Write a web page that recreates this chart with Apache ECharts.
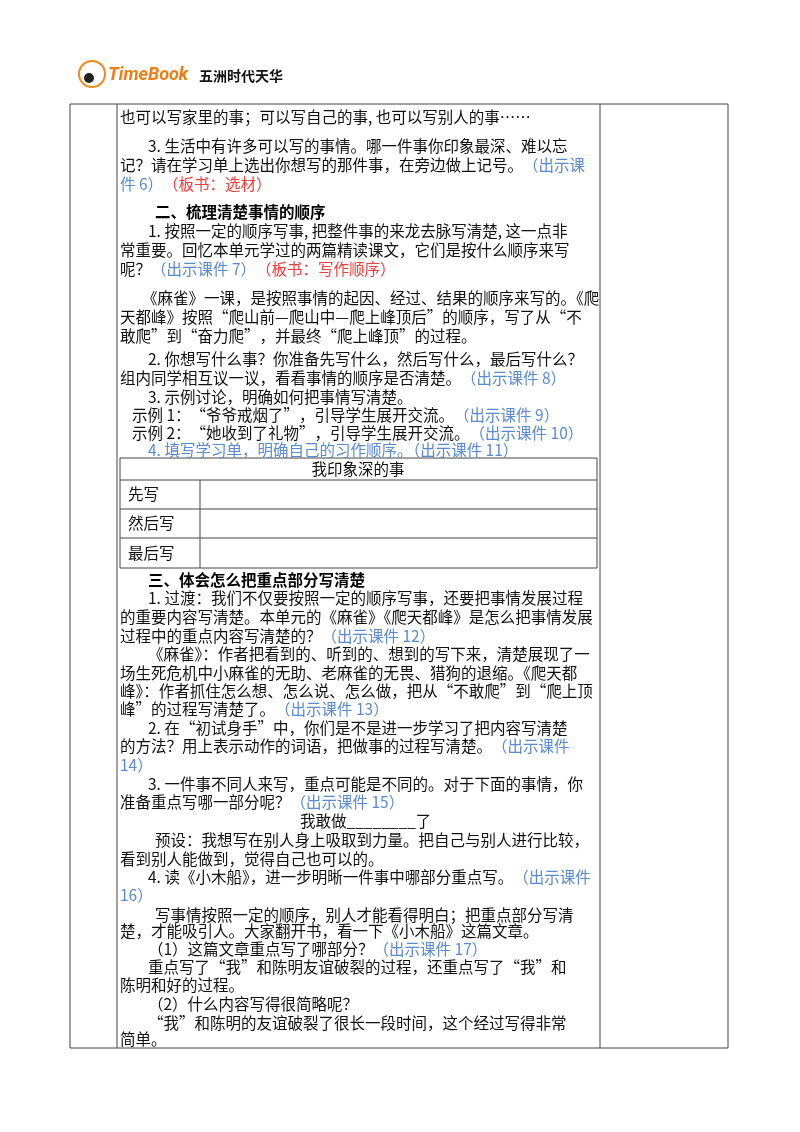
<!DOCTYPE html>
<html><head><meta charset="utf-8">
<script src="https://cdn.jsdelivr.net/npm/echarts@6/dist/echarts.min.js"></script>
<style>html,body{margin:0;background:#fff}#main{width:800px;height:1132px}</style>
</head><body><div id="main"></div>
<script>
// text lines: [indent, y, text]  ({b|} blue, {r|} red, {h|} bold)
var lines = [
  [120, 117, '也可以写家里的事；可以写自己的事, 也可以写别人的事……'],
  [148, 146, '3. 生活中有许多可以写的事情。哪一件事你印象最深、难以忘'],
  [120, 165, '记？请在学习单上选出你想写的那件事，在旁边做上记号。{b|（出示课}'],
  [120, 184, '{b|件 6）}{r|（板书：选材）}'],
  [155, 212, '{h|二、梳理清楚事情的顺序}'],
  [148, 231, '1. 按照一定的顺序写事, 把整件事的来龙去脉写清楚, 这一点非'],
  [120, 250, '常重要。回忆本单元学过的两篇精读课文，它们是按什么顺序来写'],
  [120, 269, '呢？{b|（出示课件 7）}{r|（板书：写作顺序）}'],
  [142, 298, '《麻雀》一课，是按照事情的起因、经过、结果的顺序来写的。《爬'],
  [120, 317, '天都峰》按照“爬山前—爬山中—爬上峰顶后”的顺序，写了从“不'],
  [120, 336, '敢爬”到“奋力爬”，并最终“爬上峰顶”的过程。'],
  [148, 359, '2. 你想写什么事？你准备先写什么，然后写什么，最后写什么？'],
  [120, 378, '组内同学相互议一议，看看事情的顺序是否清楚。{b|（出示课件 8）}'],
  [148, 397, '3. 示例讨论，明确如何把事情写清楚。'],
  [132, 415, '示例 1：“爷爷戒烟了”，引导学生展开交流。{b|（出示课件 9）}'],
  [132, 433, '示例 2：“她收到了礼物”，引导学生展开交流。{b|（出示课件 10）}'],
  [148, 450, '{b|4. 填写学习单，明确自己的习作顺序。（出示课件 11）}'],
  [148, 580, '{h|三、体会怎么把重点部分写清楚}'],
  [148, 598, '1. 过渡：我们不仅要按照一定的顺序写事，还要把事情发展过程'],
  [120, 617, '的重要内容写清楚。本单元的《麻雀》《爬天都峰》是怎么把事情发展'],
  [120, 636, '过程中的重点内容写清楚的？{b|（出示课件 12）}'],
  [148, 654, '《麻雀》：作者把看到的、听到的、想到的写下来，清楚展现了一'],
  [120, 673, '场生死危机中小麻雀的无助、老麻雀的无畏、猎狗的退缩。《爬天都'],
  [120, 691, '峰》：作者抓住怎么想、怎么说、怎么做，把从“不敢爬”到“爬上顶'],
  [120, 709, '峰”的过程写清楚了。{b|（出示课件 13）}'],
  [148, 728, '2. 在“初试身手”中，你们是不是进一步学习了把内容写清楚'],
  [120, 746, '的方法？用上表示动作的词语，把做事的过程写清楚。{b|（出示课件}'],
  [120, 765, '{b|14）}'],
  [148, 784, '3. 一件事不同人来写，重点可能是不同的。对于下面的事情，你'],
  [120, 802, '准备重点写哪一部分呢？{b|（出示课件 15）}'],
  [300, 821, '我敢做________了'],
  [155, 840, '预设：我想写在别人身上吸取到力量。把自己与别人进行比较，'],
  [120, 859, '看到别人能做到，觉得自己也可以的。'],
  [148, 877, '4. 读《小木船》，进一步明晰一件事中哪部分重点写。{b|（出示课件}'],
  [120, 895, '{b|16）}'],
  [155, 915, '写事情按照一定的顺序，别人才能看得明白；把重点部分写清'],
  [120, 931, '楚，才能吸引人。大家翻开书，看一下《小木船》这篇文章。'],
  [148, 949, '（1）这篇文章重点写了哪部分？{b|（出示课件 17）}'],
  [148, 967, '重点写了“我”和陈明友谊破裂的过程，还重点写了“我”和'],
  [120, 985, '陈明和好的过程。'],
  [148, 1004, '（2）什么内容写得很简略呢？'],
  [148, 1023, '“我”和陈明的友谊破裂了很长一段时间，这个经过写得非常'],
  [120, 1039, '简单。']
];
var tableTitle = '我印象深的事';
var tableRows = ['先写', '然后写', '最后写'];

var font = '"Noto Sans CJK SC", sans-serif';
var fs = 15.5;
var rich = {
  b: {fill: '#5a8ad0', fontSize: fs, fontFamily: font},
  r: {fill: '#f03c3c', fontSize: fs, fontFamily: font},
  h: {fill: '#000', fontSize: fs, fontWeight: 'bold', fontFamily: font}
};
var g = [];
function line(x1, y1, x2, y2, w) {
  g.push({type: 'line', shape: {x1: x1, y1: y1, x2: x2, y2: y2}, style: {stroke: '#444', lineWidth: w || 1}});
}
function txt(x, y, s, align) {
  g.push({type: 'text', x: x, y: y, style: {text: s, rich: rich, fill: '#111', fontSize: fs, fontFamily: font,
    verticalAlign: 'middle', align: align || 'left'}});
}
// outer frame
line(70, 104, 728, 104); line(70, 1048, 728, 1048);
line(70, 104, 70, 1048); line(117, 104, 117, 1048);
line(600, 104, 600, 1048); line(728, 104, 728, 1048);
// inner table
var ty = [458, 480, 509, 538, 568];
ty.forEach(function (y) { line(120, y, 597, y); });
line(120, 458, 120, 568); line(597, 458, 597, 568); line(200, 480, 200, 568);
txt(358, 469, tableTitle, 'center');
tableRows.forEach(function (s, i) { txt(128, (ty[i + 1] + ty[i + 2]) / 2, s); });
lines.forEach(function (l) { txt(l[0], l[1], l[2]); });
// logo
g.push({type: 'circle', shape: {cx: 92, cy: 74, r: 13}, style: {fill: '#fff', stroke: '#f08a1c', lineWidth: 2}});
g.push({type: 'circle', shape: {cx: 89, cy: 78, r: 5}, style: {fill: '#222'}});
g.push({type: 'text', x: 108, y: 75, style: {text: 'TimeBook', fill: '#f07d12', fontSize: 18, fontWeight: 'bold', fontStyle: 'italic', fontFamily: 'Roboto', verticalAlign: 'middle'}});
g.push({type: 'text', x: 199, y: 76, style: {text: '五洲时代天华', fill: '#111', fontSize: 14, fontWeight: 'bold', fontFamily: font, verticalAlign: 'middle'}});

var chart = echarts.init(document.getElementById('main'));
chart.setOption({graphic: g});
</script></body></html>
